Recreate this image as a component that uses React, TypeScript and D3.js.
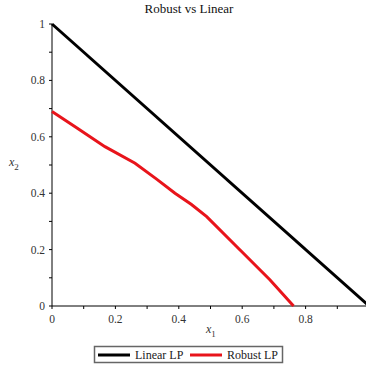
import React from 'react';
import * as d3 from 'd3';

// data
const linearX = [0, 1];
const linearY = [1, 0];
const robustX = [0, 0.08, 0.167, 0.262, 0.33, 0.388, 0.44, 0.488, 0.583, 0.688, 0.762];
const robustY = [0.69, 0.63, 0.565, 0.506, 0.45, 0.4, 0.36, 0.317, 0.21, 0.092, 0];
const majorTicks = [0, 0.2, 0.4, 0.6, 0.8];
const yMajorTicks = [0, 0.2, 0.4, 0.6, 0.8, 1];
const minorTicks = [0.1, 0.3, 0.5, 0.7, 0.9];
const legendNames = ['Linear LP', 'Robust LP'];
const seriesColors = ['#000000', '#e8141b'];

const W = 366;
const H = 369;
const font = '"Liberation Serif", "Times New Roman", serif';

export default function App() {
  const x = d3.scaleLinear().domain([0, 1]).range([52, 369]);
  const y = d3.scaleLinear().domain([0, 1]).range([306, 24]);

  const line = d3.line<[number, number]>()
    .x(d => x(d[0]))
    .y(d => y(d[1]));

  const linearPts = linearX.map((v, i) => [v, linearY[i]] as [number, number]);
  const robustPts = robustX.map((v, i) => [v, robustY[i]] as [number, number]);

  return (
    <svg width={W} height={H} style={{ position: 'absolute', left: 0, top: 0, background: '#fff' }}>
      <text x={189} y={13} textAnchor="middle" fontFamily={font} fontSize={13} fill="#111">Robust vs Linear</text>

      {/* axes */}
      <line x1={x(0)} x2={x(0)} y1={y(1)} y2={y(0)} stroke="#000" strokeWidth={1} />
      <line x1={x(0)} x2={W} y1={y(0)} y2={y(0)} stroke="#000" strokeWidth={1} />

      {/* x ticks */}
      {[...majorTicks, 1, ...minorTicks].map(t => (
        <line key={'xt' + t} x1={x(t)} x2={x(t)} y1={y(0)} y2={y(0) + 3} stroke="#000" />
      ))}
      {majorTicks.map(t => (
        <text key={'xl' + t} x={x(t)} y={y(0) + 17} textAnchor="middle" fontFamily={font} fontSize={11.5} fill="#333">{t}</text>
      ))}

      {/* y ticks */}
      {[...yMajorTicks, ...minorTicks].map(t => (
        <line key={'yt' + t} x1={x(0) - 3} x2={x(0)} y1={y(t)} y2={y(t)} stroke="#000" />
      ))}
      {yMajorTicks.map(t => (
        <text key={'yl' + t} x={45} y={y(t) + 4} textAnchor="end" fontFamily={font} fontSize={11.5} fill="#333">{t}</text>
      ))}

      {/* axis labels */}
      <text x={206} y={333} fontFamily={font} fontSize={12} fill="#333">
        <tspan fontStyle="italic">x</tspan>
        <tspan fontSize={9} dy={4}>1</tspan>
      </text>
      <text x={9} y={166} fontFamily={font} fontSize={12} fill="#333">
        <tspan fontStyle="italic">x</tspan>
        <tspan fontSize={9} dy={4}>2</tspan>
      </text>

      {/* series */}
      <path d={line(linearPts) || ''} fill="none" stroke={seriesColors[0]} strokeWidth={3} />
      <path d={line(robustPts) || ''} fill="none" stroke={seriesColors[1]} strokeWidth={3} />

      {/* legend */}
      <rect x={94.5} y={346.5} width={188} height={16} fill="#fff" stroke="#666" strokeWidth={1.5} />
      <line x1={98} x2={130} y1={355} y2={355} stroke={seriesColors[0]} strokeWidth={3} />
      <text x={135} y={359} fontFamily={font} fontSize={12} fill="#222">{legendNames[0]}</text>
      <line x1={190} x2={222} y1={355} y2={355} stroke={seriesColors[1]} strokeWidth={3} />
      <text x={227} y={359} fontFamily={font} fontSize={12} fill="#222">{legendNames[1]}</text>
    </svg>
  );
}
